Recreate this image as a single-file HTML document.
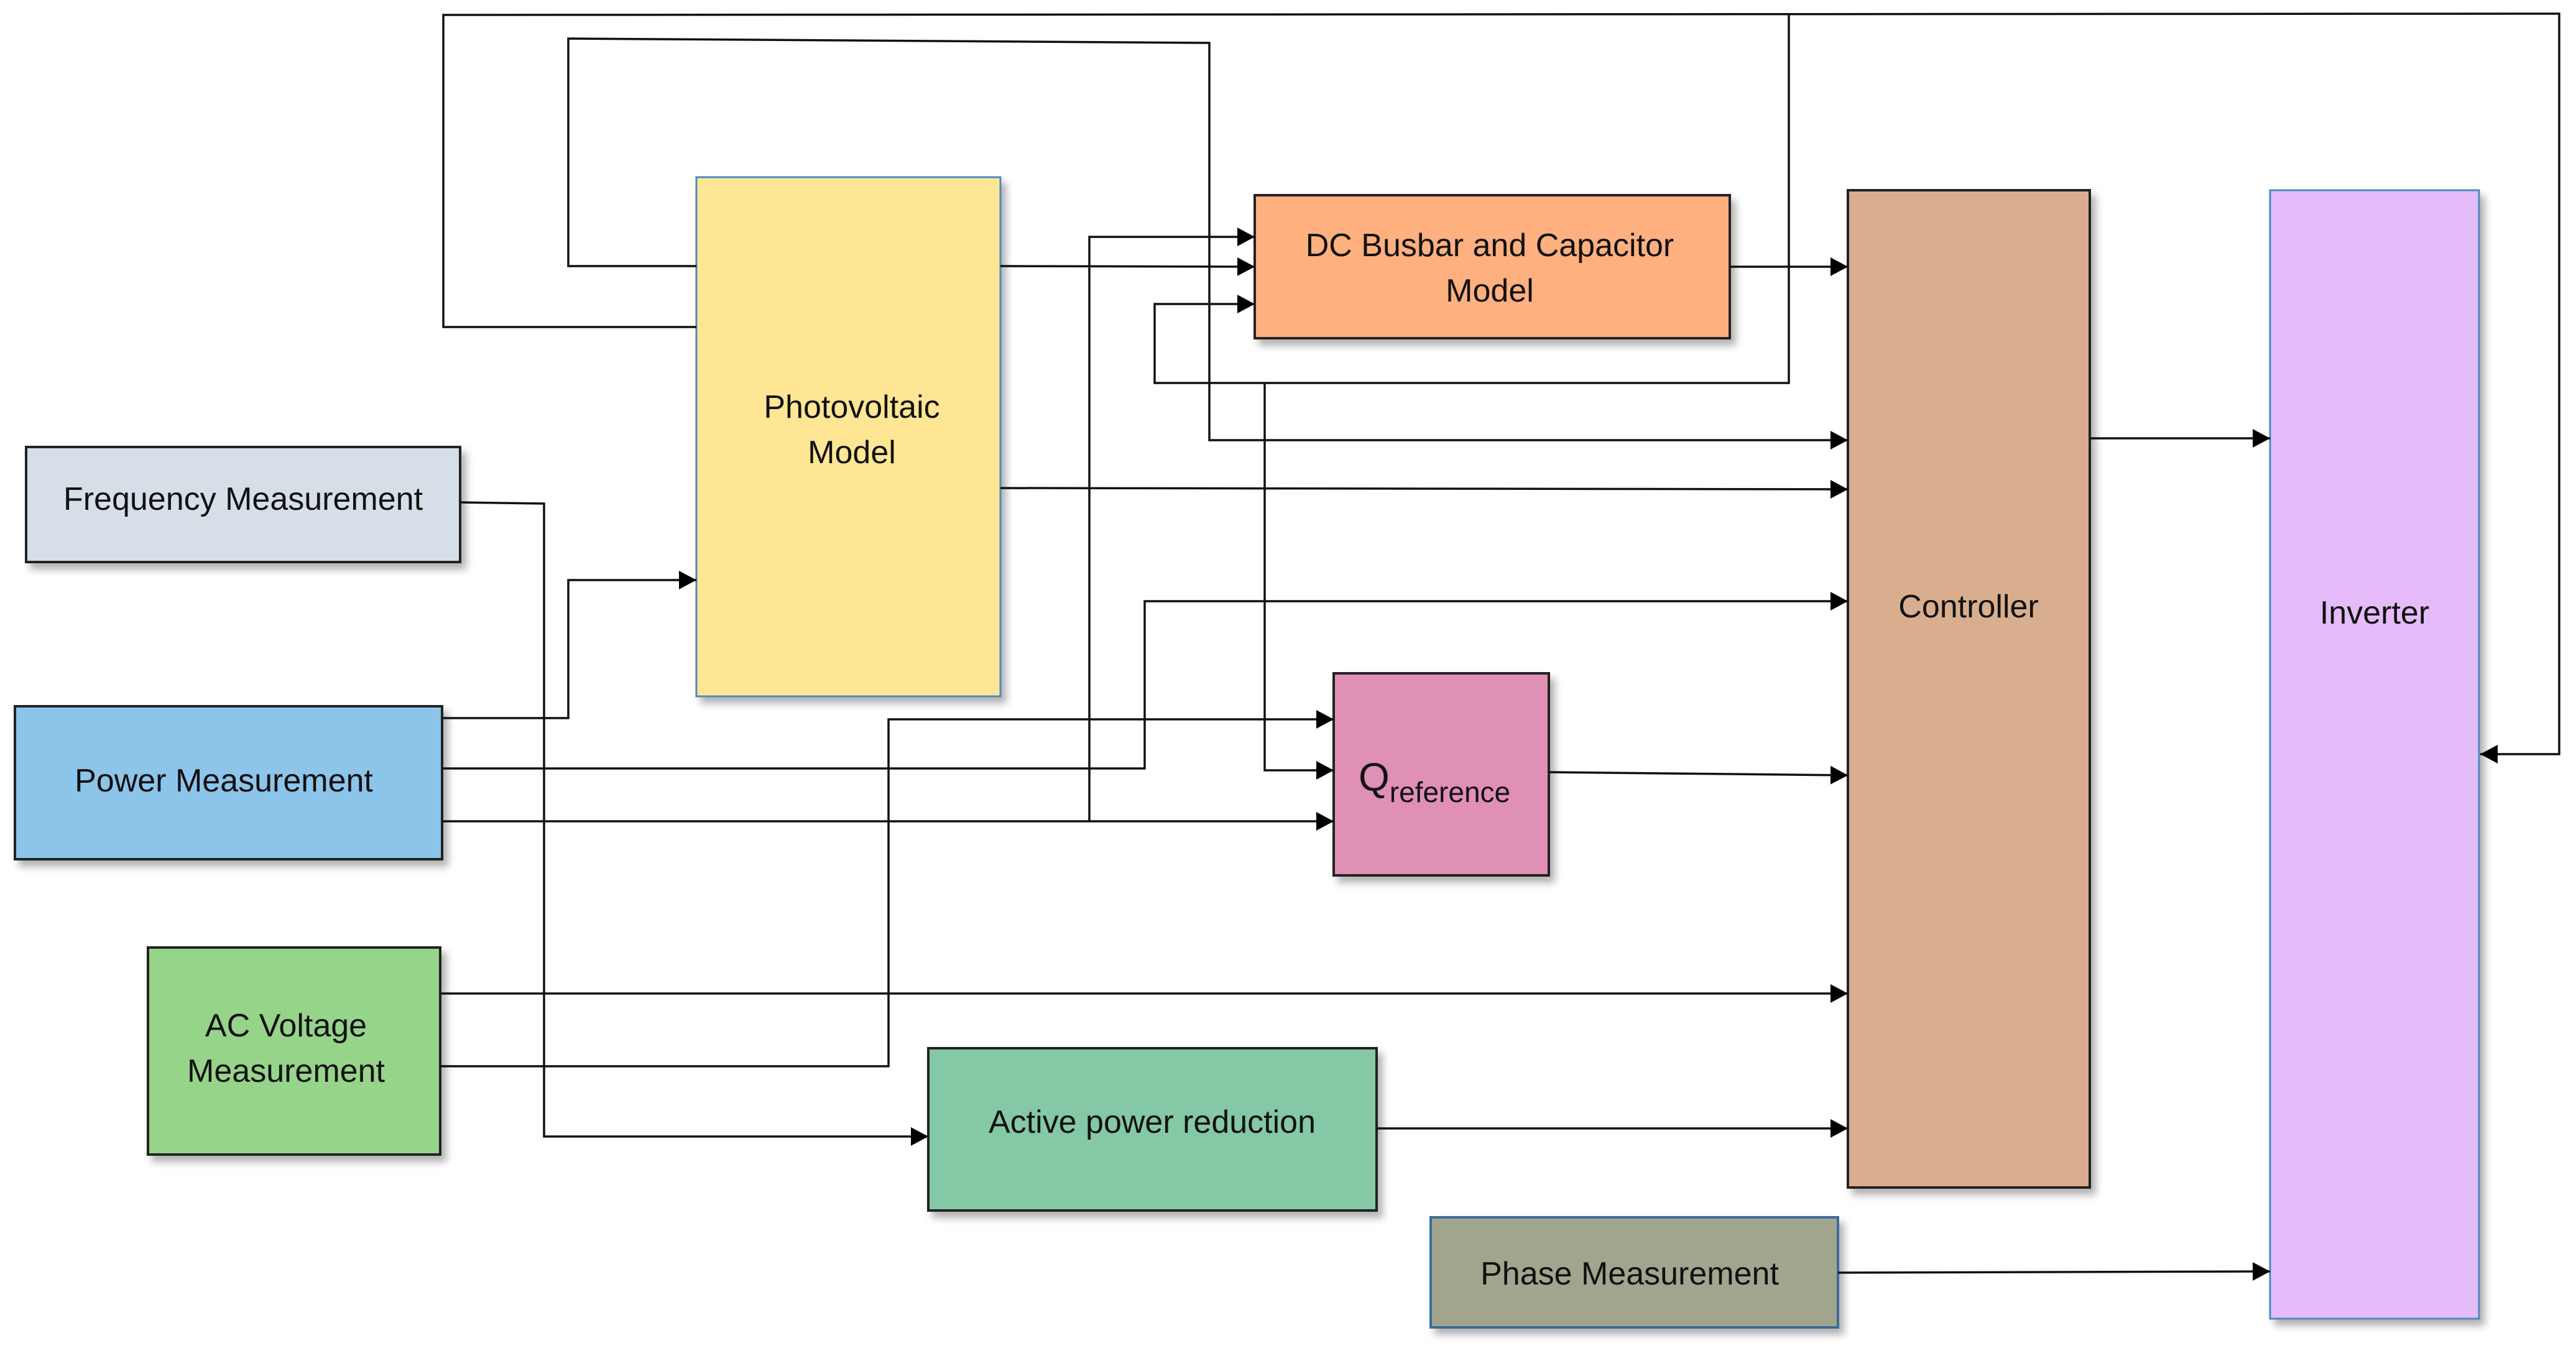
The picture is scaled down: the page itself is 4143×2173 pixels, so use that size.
<!DOCTYPE html>
<html><head><meta charset="utf-8"><style>html,body{margin:0;padding:0;background:#fff}svg{display:block}</style></head>
<body>
<svg width="4143" height="2173" viewBox="0 0 4143 2173" xmlns="http://www.w3.org/2000/svg" font-family="'Liberation Sans', sans-serif" font-size="52">
<defs>
<marker id="a" markerWidth="28" markerHeight="30" refX="28" refY="15" orient="auto" markerUnits="userSpaceOnUse" viewBox="0 0 28 30"><path d="M0,0 L28,15 L0,30z" fill="#000"/></marker>
<filter id="s" x="-10%" y="-10%" width="130%" height="130%"><feDropShadow dx="8" dy="10" stdDeviation="6" flood-color="#000" flood-opacity="0.3"/></filter>
</defs>
<style>.l{fill:none;stroke:#111;stroke-width:3.5;marker-end:url(#a)}</style>
<g filter="url(#s)" stroke-width="4">
<rect x="42" y="719" width="698" height="185" fill="#d6dfe8" stroke="#222"/>
<rect x="24" y="1136" width="687" height="246" fill="#8dc4ea" stroke="#222"/>
<rect x="238" y="1524" width="470" height="333" fill="#96d48a" stroke="#222"/>
<rect x="1120" y="285" width="489" height="835" fill="#fee694" stroke="#4a8cc0" stroke-width="3"/>
<rect x="2018" y="314" width="764" height="230" fill="#ffb07f" stroke="#222"/>
<rect x="2145" y="1083" width="346" height="325" fill="#e08fb5" stroke="#222"/>
<rect x="1493" y="1686" width="721" height="261" fill="#84c8a6" stroke="#222"/>
<rect x="2972" y="306" width="389" height="1604" fill="#d9ae8f" stroke="#222"/>
<rect x="3651" y="306" width="336" height="1815" fill="#e5bcf9" stroke="#4a8cc0" stroke-width="3"/>
<rect x="2301" y="1958" width="655" height="177" fill="#a2a58e" stroke="#3a6a9a"/>
</g>
<g fill="#111" text-anchor="middle">
<text x="391" y="820">Frequency Measurement</text>
<text x="360" y="1273">Power Measurement</text>
<text x="460" y="1667">AC Voltage</text>
<text x="460" y="1740">Measurement</text>
<text x="1370" y="672">Photovoltaic</text>
<text x="1370" y="745">Model</text>
<text x="2396" y="412">DC Busbar and Capacitor</text>
<text x="2396" y="485">Model</text>
<text x="1853" y="1822">Active power reduction</text>
<text x="3166" y="993">Controller</text>
<text x="3819" y="1003">Inverter</text>
<text x="2621" y="2066">Phase Measurement</text>
<text x="2185" y="1272" text-anchor="start" font-size="64">Q<tspan font-size="46" dy="18">reference</tspan></text>
</g>
<polyline class="l" points="1120,526 713,526 713,24 4116,22 4116,1213 3989,1213"/>
<polyline class="l" points="2877,24 2877,616 1857,616 1857,489 2018,489"/>
<polyline class="l" points="2034,616 2034,1239 2145,1239"/>
<polyline class="l" points="1120,428 914,428 914,62 1945,69 1945,708 2972,708"/>
<polyline class="l" points="1609,428 2018,429"/>
<polyline class="l" points="1752,1321 1752,381 2018,381"/>
<polyline class="l" points="1609,785 2972,787"/>
<polyline class="l" points="2782,429 2972,429"/>
<polyline class="l" points="711,1155 914,1155 914,933 1120,933"/>
<polyline class="l" points="711,1236 1841,1236 1841,967 2972,967"/>
<polyline class="l" points="711,1321 2145,1321"/>
<polyline class="l" points="708,1598 2972,1598"/>
<polyline class="l" points="708,1715 1429,1715 1429,1157 2145,1157"/>
<polyline class="l" points="740,808 875,810 875,1828 1493,1828"/>
<polyline class="l" points="2214,1815 2972,1815"/>
<polyline class="l" points="2491,1242 2972,1247"/>
<polyline class="l" points="3361,705 3651,705"/>
<polyline class="l" points="2956,2047 3651,2045"/>
</svg>
</body></html>
